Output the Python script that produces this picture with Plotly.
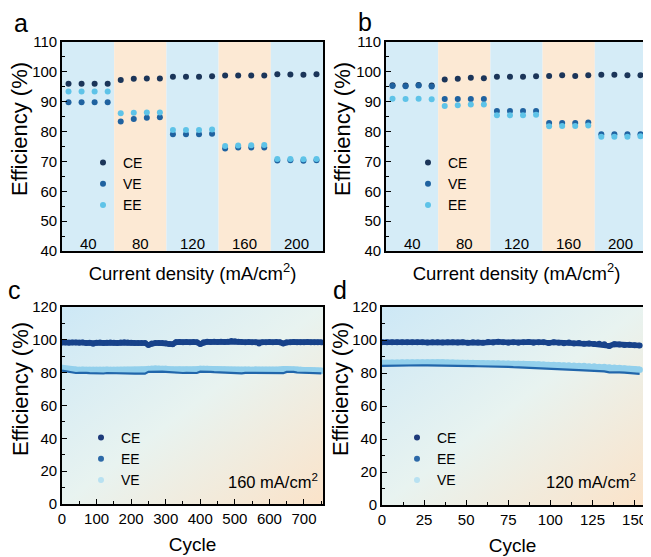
import base64
import plotly.graph_objects as go

# ---------------- data ----------------
currents = [40, 80, 120, 160, 200]
pts_per_current = 4

a_CE = [96.0, 96.0, 96.0, 96.0, 97.3, 97.7, 97.8, 97.8, 98.4, 98.4, 98.4, 98.5,
        98.8, 98.8, 98.8, 98.8, 99.2, 99.1, 99.0, 99.2]
a_VE = [89.8, 89.8, 89.8, 89.8, 83.4, 84.2, 84.6, 84.8, 79.1, 79.1, 79.1, 79.3,
        74.3, 74.7, 74.7, 74.7, 70.3, 70.4, 70.2, 70.4]
a_EE = [93.4, 93.4, 93.4, 93.4, 86.1, 86.3, 86.4, 86.4, 80.5, 80.5, 80.5, 80.7,
        75.2, 75.3, 75.4, 75.5, 70.8, 70.8, 70.7, 70.8]

b_CE = [95.5, 95.4, 95.6, 95.4, 97.4, 97.7, 98.0, 97.9, 98.4, 98.4, 98.4, 98.5,
        98.6, 98.9, 98.6, 98.9, 99.0, 99.0, 98.9, 98.9]
b_VE = [95.3, 95.2, 95.4, 95.1, 90.9, 90.9, 90.9, 90.9, 86.9, 86.9, 86.9, 86.9,
        82.9, 82.9, 82.9, 83.0, 79.1, 79.1, 79.1, 79.1]
b_EE = [91.0, 90.9, 91.0, 90.8, 88.6, 88.8, 89.1, 89.1, 85.5, 85.5, 85.5, 85.6,
        81.8, 81.9, 81.9, 82.0, 78.3, 78.3, 78.3, 78.4]

c_cycle = list(range(0, 751, 10))
c_CE = [98.3, 98.4, 98.2, 98.3, 98.4, 98.2, 98.3, 98.1, 98.2, 97.6,
        98.2, 98.3, 98.0, 98.2, 98.3, 98.2, 98.1, 98.3, 98.5, 98.4,
        98.2, 98.1, 98.0, 98.1, 98.0, 96.9, 97.8, 98.0, 98.1, 98.0,
        97.9, 97.4, 97.3, 98.6, 98.7, 98.6, 98.7, 98.6, 98.7, 98.5,
        97.5, 98.6, 98.8, 98.7, 98.8, 98.7, 98.8, 98.7, 98.8, 99.3,
        99.1, 98.8, 98.7, 98.6, 98.7, 98.6, 98.5, 97.8, 98.5, 98.6,
        98.7, 98.6, 98.7, 98.5, 97.8, 98.5, 98.6, 98.7, 98.6, 98.5,
        98.6, 98.7, 98.6, 98.5, 98.6, 98.5]
c_VE = [82.8, 82.3, 82.0, 81.8, 81.8, 81.7, 81.8, 81.7, 81.6, 81.7,
        81.6, 81.7, 81.6, 81.8, 81.7, 81.6, 81.7, 81.6, 81.7, 81.6,
        81.5, 81.6, 81.5, 81.6, 81.7, 82.2, 82.4, 82.5, 82.4, 82.3,
        82.2, 81.9, 81.8, 81.7, 81.8, 81.7, 81.8, 81.7, 81.8, 82.0,
        82.3, 82.2, 82.2, 82.1, 82.0, 81.9, 81.8, 81.8, 81.7, 81.6,
        81.7, 81.6, 81.7, 81.8, 81.8, 81.7, 81.8, 81.7, 81.6, 81.7,
        81.6, 81.7, 81.6, 81.8, 82.0, 82.1, 82.0, 82.0, 81.8, 81.6,
        81.5, 81.4, 81.4, 81.3, 81.2, 81.2]
c_EE = [81.3, 81.0, 80.4, 80.0, 79.8, 79.9, 80.1, 79.9, 79.7, 79.6,
        79.5, 79.5, 79.5, 79.8, 79.7, 79.6, 79.6, 79.7, 79.6, 79.5,
        79.5, 79.4, 79.4, 79.5, 79.4, 80.5, 80.6, 80.7, 80.6, 80.6,
        80.5, 80.3, 80.2, 79.9, 79.8, 79.8, 79.9, 79.8, 79.7, 79.8,
        80.6, 80.7, 80.6, 80.5, 80.3, 80.2, 80.2, 80.1, 80.1, 79.8,
        79.6, 79.6, 79.6, 79.9, 79.9, 80.0, 79.9, 79.8, 79.9, 79.9,
        79.8, 79.6, 79.6, 79.6, 79.7, 80.5, 80.6, 80.5, 80.1, 80.0,
        80.0, 79.9, 80.0, 79.7, 79.6, 79.6]

d_cycle = list(range(0, 154, 3))
d_CE = [98.6, 98.7, 98.6, 98.6, 98.7, 98.6, 98.6, 98.7, 98.6, 98.5,
        98.6, 98.7, 98.5, 98.6, 98.7, 98.5, 98.6, 98.4, 98.7, 98.5,
        98.4, 98.8, 98.5, 99.0, 98.6, 98.4, 98.7, 98.3, 98.6, 98.8,
        98.3, 98.6, 98.7, 98.2, 98.6, 98.4, 98.0, 98.5, 97.9, 98.2,
        97.8, 97.9, 97.6, 97.8, 97.4, 96.4, 97.5, 97.2, 96.9, 97.1,
        96.8, 96.6]
d_VE = [86.0, 86.1, 86.2, 86.2, 86.3, 86.3, 86.3, 86.4, 86.4, 86.4,
        86.3, 86.3, 86.3, 86.2, 86.2, 86.1, 86.1, 86.0, 86.0, 85.9,
        85.9, 85.8, 85.8, 85.7, 85.6, 85.6, 85.5, 85.4, 85.4, 85.3,
        85.2, 85.1, 85.0, 84.9, 84.8, 84.7, 84.6, 84.5, 84.4, 84.3,
        84.2, 84.0, 83.9, 83.7, 83.6, 83.4, 83.2, 83.0, 82.8, 82.5,
        82.3, 82.0]
d_EE = [84.3, 84.4, 84.5, 84.5, 84.6, 84.6, 84.7, 84.7, 84.7, 84.6,
        84.6, 84.6, 84.5, 84.5, 84.4, 84.4, 84.3, 84.3, 84.2, 84.1,
        84.1, 84.0, 83.9, 83.8, 83.7, 83.7, 83.5, 83.4, 83.3, 83.2,
        83.1, 82.9, 82.8, 82.7, 82.5, 82.4, 82.2, 82.1, 81.9, 81.8,
        81.6, 81.5, 81.3, 81.1, 81.0, 80.4, 80.6, 80.4, 80.2, 79.9,
        79.7, 79.5]

# ---------------- style ----------------
OFF = 8                     # page body margin of the html page
W, H = 651 - OFF, 557 - OFF
FONT = "Arial, 'Liberation Sans', sans-serif"
C_DARK = "#1b3559"
C_MID = "#1f62a0"
C_LIGHT = "#5ec3e8"
L_CE = "#17428a"
L_EE = "#2166ab"
L_VE = "#93d0ec"
BAND_BLUE = "#d5ecf7"
BAND_ORANGE = "#fce9d4"


def px_x(p):
    return (p - OFF) / W


def px_y(p):
    return 1 - (p - OFF) / H


fig = go.Figure()

idx = list(range(1, len(currents) * pts_per_current + 1))
band_centers = [i * pts_per_current + (pts_per_current + 1) / 2 for i in range(len(currents))]

# panels a, b
for (ce, ve, ee, xa, ya, lg) in [(a_CE, a_VE, a_EE, "x", "y", "legend"),
                                 (b_CE, b_VE, b_EE, "x2", "y2", "legend2")]:
    for name, vals, col in [("CE", ce, C_DARK), ("VE", ve, C_MID), ("EE", ee, C_LIGHT)]:
        fig.add_trace(go.Scatter(x=idx, y=vals, mode="markers", name=name,
                                 marker=dict(size=6, color=col),
                                 xaxis=xa, yaxis=ya, legend=lg))
    for i, cur in enumerate(currents):
        fig.add_shape(type="rect", xref=xa, yref=f"{ya} domain",
                      x0=i * pts_per_current + 0.5, x1=(i + 1) * pts_per_current + 0.5,
                      y0=0, y1=1, fillcolor=BAND_BLUE if i % 2 == 0 else BAND_ORANGE,
                      line_width=0, layer="below")
        fig.add_annotation(text=str(cur), xref=xa, yref=ya, x=band_centers[i], y=40,
                           xanchor="center", yanchor="bottom", yshift=-3, showarrow=False,
                           font=dict(family=FONT, size=15, color="black"))

# panels c, d : data traces (VE under EE under CE)
for (cyc, ce, ee, ve, xa, ya, lg) in [(c_cycle, c_CE, c_EE, c_VE, "x3", "y3", "legend3"),
                                      (d_cycle, d_CE, d_EE, d_VE, "x4", "y4", "legend4")]:
    fig.add_trace(go.Scatter(x=cyc, y=ve, mode="lines+markers", showlegend=False,
                             line=dict(color=L_VE, width=6.5), marker=dict(size=6.5, color=L_VE),
                             xaxis=xa, yaxis=ya))
    fig.add_trace(go.Scatter(x=cyc, y=ee, mode="lines", showlegend=False,
                             line=dict(color=L_EE, width=2.2),
                             xaxis=xa, yaxis=ya))
    fig.add_trace(go.Scatter(x=cyc, y=ce, mode="lines+markers", showlegend=False,
                             line=dict(color=L_CE, width=5.5), marker=dict(size=6, color=L_CE),
                             xaxis=xa, yaxis=ya))
    for name, col in [("CE", "#1d3a7a"), ("EE", "#2c69a8"), ("VE", "#b8e1f1")]:
        fig.add_trace(go.Scatter(x=[None], y=[None], mode="markers", name=name,
                                 marker=dict(size=6, color=col),
                                 xaxis=xa, yaxis=ya, legend=lg))

# gradient background for c, d
svg = ("<svg xmlns='http://www.w3.org/2000/svg' width='200' height='200' preserveAspectRatio='none'>"
       "<defs><linearGradient id='g' x1='0' y1='0' x2='1' y2='1'>"
       "<stop offset='0' stop-color='#cde8f6'/>"
       "<stop offset='0.5' stop-color='#e8f3f0'/>"
       "<stop offset='1' stop-color='#fbe3c9'/>"
       "</linearGradient></defs><rect width='200' height='200' fill='url(#g)'/></svg>")
src = "data:image/svg+xml;base64," + base64.b64encode(svg.encode()).decode()
for xa, ya in [("x3", "y3"), ("x4", "y4")]:
    fig.add_layout_image(dict(source=src, xref=f"{xa} domain", yref=f"{ya} domain",
                              x=0, y=1, sizex=1, sizey=1, sizing="stretch",
                              xanchor="left", yanchor="top", layer="below"))

# ---------------- axes ----------------
base_ax = dict(showline=True, linecolor="black", linewidth=1.6, mirror=True,
               showgrid=False, zeroline=False, automargin=False,
               tickfont=dict(family=FONT, size=15, color="black"),
               ticks="inside", ticklen=5, tickwidth=1.2, tickcolor="black")

dom = {
    "a": ([px_x(62), px_x(323)], [px_y(251), px_y(42)]),
    "b": ([px_x(386), px_x(647)], [px_y(251), px_y(42)]),
    "c": ([px_x(62), px_x(323)], [px_y(504), px_y(307)]),
    "d": ([px_x(382), px_x(643)], [px_y(505), px_y(307)]),
}

cd_xtitle = dict(text="Cycle", font=dict(family=FONT, size=19, color="black"), standoff=12)

layout_axes = {}
for k, xk, yk, ax_x, ax_y in [("a", "xaxis", "yaxis", "x", "y"), ("b", "xaxis2", "yaxis2", "x2", "y2")]:
    layout_axes[xk] = dict(base_ax, domain=dom[k][0], anchor=ax_y, range=[0.5, 20.5],
                           ticks="", showticklabels=False,
                           title=dict(text="Current density (mA/cm<sup>2</sup>)",
                                      font=dict(family=FONT, size=18.5, color="black"), standoff=15))
    layout_axes[yk] = dict(base_ax, domain=dom[k][1], anchor=ax_x, range=[40, 110],
                           dtick=10, minor=dict(ticks="inside", ticklen=3, dtick=5, tickcolor="black"))

layout_axes["xaxis3"] = dict(base_ax, domain=dom["c"][0], anchor="y3", range=[0, 755], dtick=100,
                             minor=dict(ticks="inside", ticklen=3, dtick=50, tickcolor="black"),
                             title=cd_xtitle)
layout_axes["yaxis3"] = dict(base_ax, domain=dom["c"][1], anchor="x3", range=[0, 120], dtick=20,
                             minor=dict(ticks="inside", ticklen=3, dtick=10, tickcolor="black"))
layout_axes["xaxis4"] = dict(base_ax, domain=dom["d"][0], anchor="y4", range=[0, 155], dtick=25,
                             minor=dict(ticks="inside", ticklen=3, dtick=12.5, tickcolor="black"),
                             title=cd_xtitle)
layout_axes["yaxis4"] = dict(base_ax, domain=dom["d"][1], anchor="x4", range=[0, 120], dtick=20,
                             minor=dict(ticks="inside", ticklen=3, dtick=10, tickcolor="black"))

leg = dict(bgcolor="rgba(0,0,0,0)", borderwidth=0, font=dict(family=FONT, size=14, color="black"),
           xanchor="left", yanchor="top", itemwidth=30)

fig.update_layout(
    width=W, height=H, margin=dict(l=0, r=0, t=0, b=0),
    paper_bgcolor="white", plot_bgcolor="rgba(0,0,0,0)",
    font=dict(family=FONT, color="black"),
    legend=dict(leg, x=px_x(83), y=px_y(147)),
    legend2=dict(leg, x=px_x(408), y=px_y(147)),
    legend3=dict(leg, x=px_x(81), y=px_y(422)),
    legend4=dict(leg, x=px_x(397), y=px_y(422)),
    **layout_axes,
)

# y-axis titles
for tx, ty in [(20, 129), (343, 129), (20, 389), (340, 389)]:
    fig.add_annotation(text="Efficiency (%)", xref="paper", yref="paper", x=px_x(tx), y=px_y(ty),
                       xanchor="center", yanchor="middle", textangle=-90, showarrow=False,
                       font=dict(family=FONT, size=22, color="black"))

# panel letters and condition labels
for letter, (lx, ly) in {"a": (21, 23), "b": (365, 22), "c": (14, 290), "d": (340, 290)}.items():
    fig.add_annotation(text=letter, xref="paper", yref="paper", x=px_x(lx), y=px_y(ly),
                       xanchor="center", yanchor="middle", showarrow=False,
                       font=dict(family=FONT, size=25, color="black"))
for txt, rx in [("160 mA/cm<sup>2</sup>", 320), ("120 mA/cm<sup>2</sup>", 638)]:
    fig.add_annotation(text=txt, xref="paper", yref="paper", x=px_x(rx), y=px_y(481),
                       xanchor="right", yanchor="middle", showarrow=False,
                       font=dict(family=FONT, size=16.5, color="black"))

fig.write_html("out.html")
